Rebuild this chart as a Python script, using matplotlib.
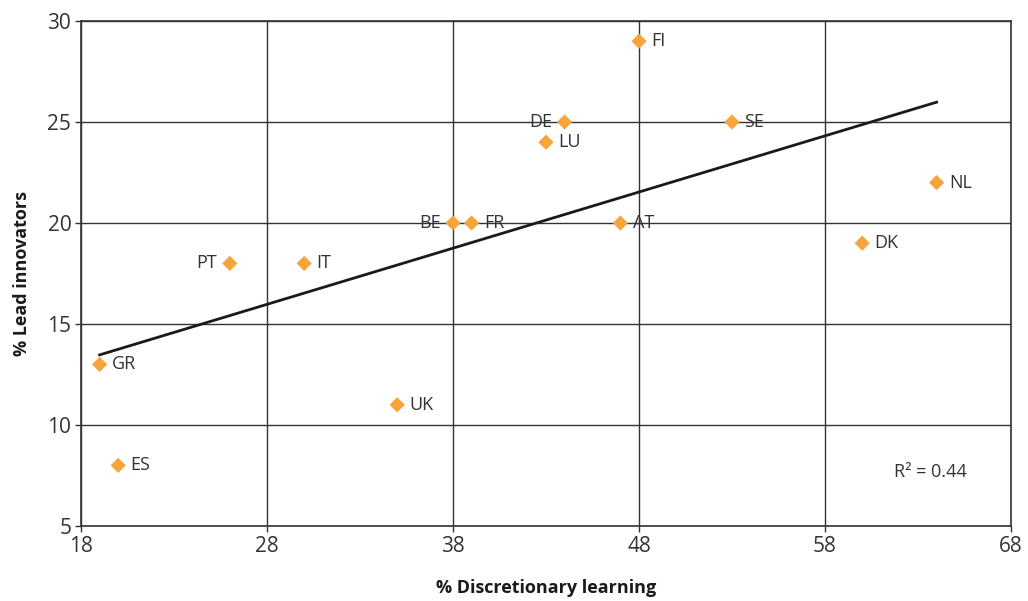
import numpy as np
import matplotlib.pyplot as plt

plt.rcParams['font.family'] = ['Open Sans', 'DejaVu Sans']

# 国別データ
countries = ['FI', 'DE', 'SE', 'LU', 'NL', 'BE', 'FR', 'AT', 'DK', 'PT', 'IT', 'GR', 'UK', 'ES']
discretionary = [48, 44, 53, 43, 64, 38, 39, 47, 60, 26, 30, 19, 35, 20]
lead_innovators = [29, 25, 25, 24, 22, 20, 20, 20, 19, 18, 18, 13, 11, 8]
left_labels = {'DE', 'BE', 'PT'}

x_ticks = [18, 28, 38, 48, 58, 68]
y_ticks = [5, 10, 15, 20, 25, 30]

fig = plt.figure(figsize=(10.28, 6.01), dpi=100)
ax = fig.add_axes([81/1028, 1 - 526/601, 930/1028, 505/601])

# 格子
ax.set_axisbelow(True)
ax.grid(True, color='#333333', linewidth=1)

# 回帰直線
x = np.array(discretionary, dtype=float)
y = np.array(lead_innovators, dtype=float)
slope, intercept = np.polyfit(x, y, 1)
xs = np.array([x.min(), x.max()])
ax.plot(xs, slope * xs + intercept, color='#1a1a1a', linewidth=2, zorder=2)

# 散布図
ax.scatter(x, y, marker='D', s=60, color='#f7a43a', edgecolors='none', zorder=3)
for name, xi, yi in zip(countries, x, y):
    if name in left_labels:
        ax.annotate(name, (xi, yi), xytext=(-9, 0), textcoords='offset points',
                    ha='right', va='center', fontsize=13, color='#333333')
    else:
        ax.annotate(name, (xi, yi), xytext=(9, 0), textcoords='offset points',
                    ha='left', va='center', fontsize=13, color='#333333')

ax.text(0.953, 0.107, 'R² = 0.44', transform=ax.transAxes, ha='right', va='center',
        fontsize=13, color='#333333')

ax.set_xlim(18, 68)
ax.set_ylim(5, 30)
ax.set_xticks(x_ticks)
ax.set_yticks(y_ticks)
ax.tick_params(labelsize=15, colors='#333333', length=4, width=1, direction='out', pad=3)
for s in ax.spines.values():
    s.set_color('#333333')
    s.set_linewidth(1.2)

ax.set_xlabel('% Discretionary learning', fontsize=13, fontweight='bold', color='#1a1a1a', labelpad=16)
ax.set_ylabel('% Lead innovators', fontsize=13, fontweight='bold', color='#1a1a1a', labelpad=12)

plt.savefig('out.png', dpi=100)
